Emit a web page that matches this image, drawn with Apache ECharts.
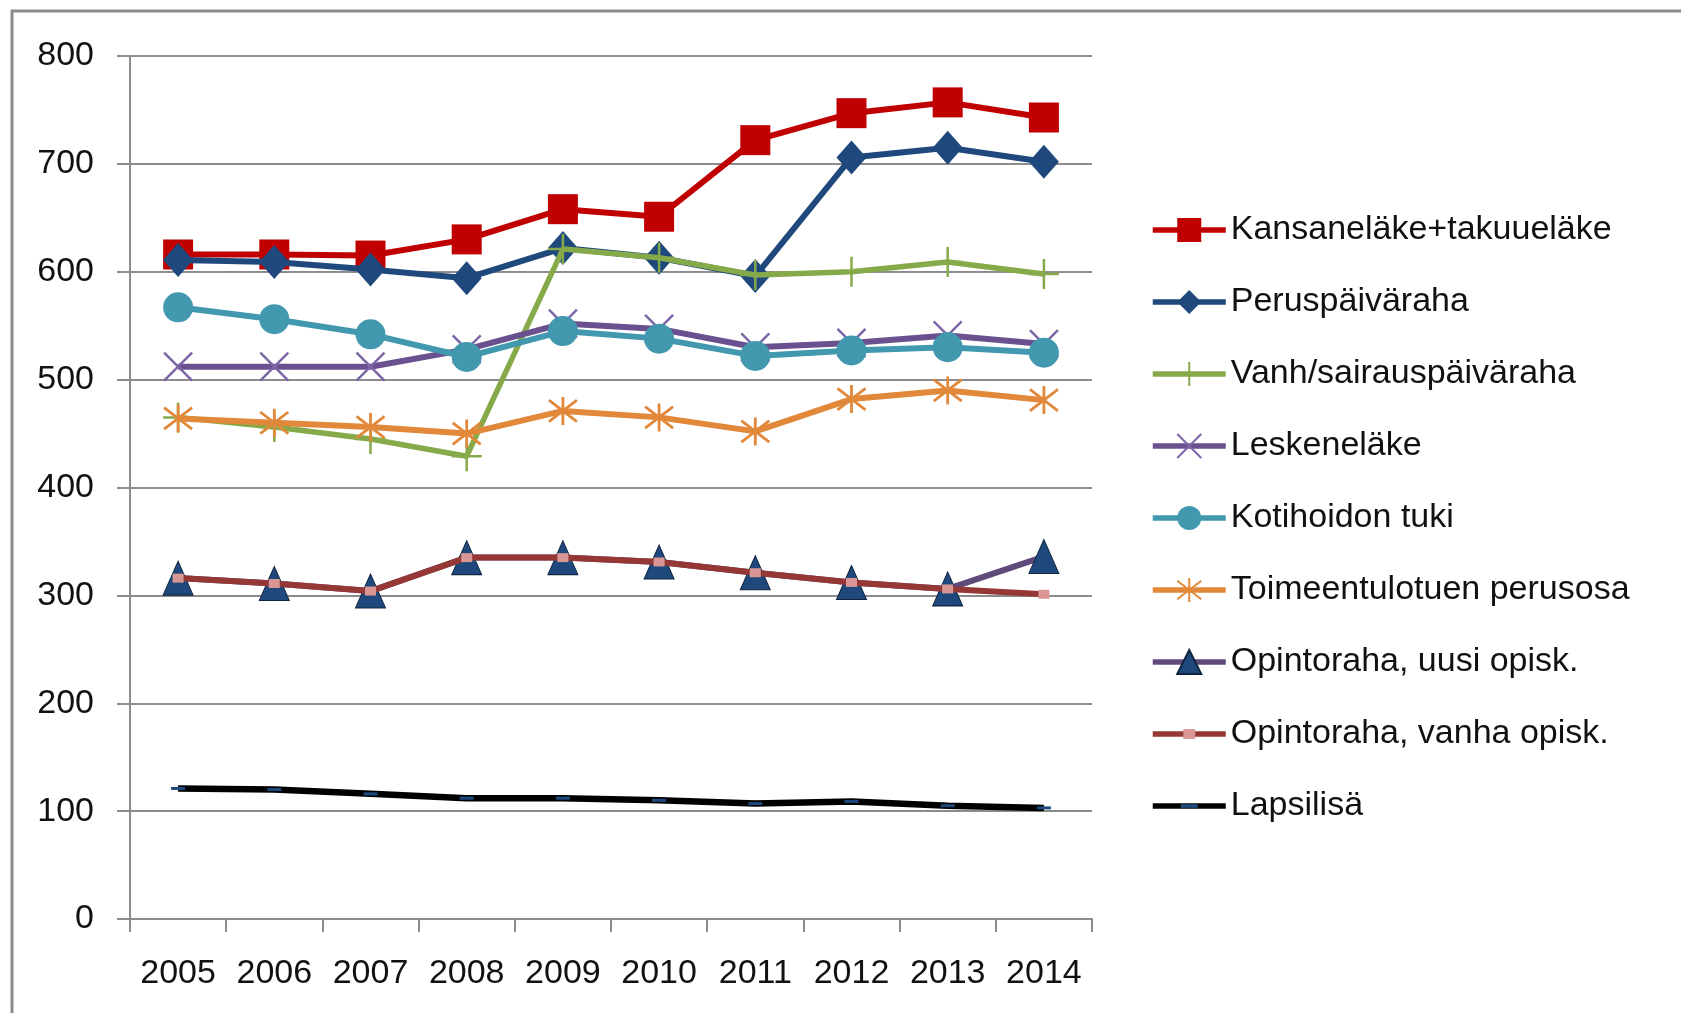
<!DOCTYPE html>
<html>
<head>
<meta charset="utf-8">
<script src="https://cdn.jsdelivr.net/npm/echarts@6/dist/echarts.min.js"></script>
<style>
html,body{margin:0;padding:0;background:#fff;}
#chart{width:1681px;height:1013px;}
</style>
</head>
<body>
<div id="chart"></div>
<script>
const years = ['2005','2006','2007','2008','2009','2010','2011','2012','2013','2014'];
const yTicks = [0,100,200,300,400,500,600,700,800];

const kansanelake = [616, 616, 615, 630, 658, 651, 722, 747, 757, 743];
const peruspaivaraha = [611, 609, 602, 594, 622, 613, 596, 706, 715, 702];
const vanhSairaus = [465, 456, 445, 429, 621, 613, 597, 600, 609, 598];
const leskenelake = [512, 512, 512, 528, 552, 547, 530, 534, 541, 533];
const kotihoidonTuki = [567, 556, 542, 521, 545, 538, 522, 527, 530, 525];
const toimeentulotuki = [464, 460, 456, 450, 471, 465, 452, 482, 490, 481];
const opintorahaUusi = [316, 311, 304, 335, 335, 331, 321, 312, 306, 336];
const opintorahaVanha = [316, 311, 304, 335, 335, 331, 321, 312, 306, 301];
const lapsilisa = [121, 120, 116, 112, 112, 110, 107, 109, 105, 103];

const names = ['Kansaneläke+takuueläke','Peruspäiväraha','Vanh/sairauspäiväraha','Leskeneläke','Kotihoidon tuki','Toimeentulotuen perusosa','Opintoraha, uusi opisk.','Opintoraha, vanha opisk.','Lapsilisä'];

const FONT = '"Liberation Sans", Arial, sans-serif';
const chart = echarts.init(document.getElementById('chart'), null, {renderer:'canvas'});

function line(name, data, color, width, symbol, size, itemStyle, z){
  return {
    name, type:'line', data, z,
    symbol, symbolSize:size, showSymbol:true,
    lineStyle:{color, width},
    itemStyle,
    emphasis:{disabled:true},
    animation:false
  };
}

const PLUS = 'path://M5,0 L5,10 M0,5 L10,5';
const CROSS = 'path://M0,0 L10,10 M10,0 L0,10';
const STAR = 'path://M0,0 L10,10 M10,0 L0,10 M5,-1.5 L5,11.5';
const DASH = 'path://M0,0 M20,20 M3,8.5 L17,8.5 L17,11.5 L3,11.5 Z';
const SMALLSQ = 'path://M0,0 M22,22 M5.5,6.5 L16.5,6.5 L16.5,15.5 L5.5,15.5 Z';

const series = [
  line(names[0], kansanelake, '#C00000', 6, 'rect', 30, {color:'#C00000'}, 2),
  line(names[1], peruspaivaraha, '#1F497D', 6, 'diamond', [30,34], {color:'#1F497D'}, 3),
  line(names[2], vanhSairaus, '#86AA4A', 5.5, PLUS, 30, {color:'rgba(0,0,0,0)', borderColor:'#86AA4A', borderWidth:2.5}, 4),
  line(names[3], leskenelake, '#6B5090', 6, CROSS, 28, {color:'rgba(0,0,0,0)', borderColor:'#7D66A6', borderWidth:2.5}, 5),
  line(names[4], kotihoidonTuki, '#4198AF', 6, 'circle', 30, {color:'#4198AF'}, 6),
  line(names[5], toimeentulotuki, '#E2883A', 6, STAR, 28, {color:'rgba(0,0,0,0)', borderColor:'#E2883A', borderWidth:2.8}, 7),
  line(names[6], opintorahaUusi, '#604A7B', 6, 'triangle', [30,34], {color:'#1F497D', borderColor:'#10253F', borderWidth:1}, 8),
  line(names[7], opintorahaVanha, '#953735', 6, SMALLSQ, 22, {color:'#D99694'}, 9),
  line(names[8], lapsilisa, '#000000', 6.5, DASH, 20, {color:'#1F497D'}, 10)
];

const option = {
  backgroundColor:'#fff',
  animation:false,
  textStyle:{fontFamily:FONT},
  grid:{left:130, right:589, top:56, bottom:94, containLabel:false},
  xAxis:{
    type:'category', data:years, boundaryGap:true,
    axisLine:{show:true, lineStyle:{color:'#8C8C8C', width:2}},
    axisTick:{show:true, length:13, alignWithLabel:false, lineStyle:{color:'#8C8C8C', width:2}},
    axisLabel:{fontSize:34, color:'#111', margin:38, fontFamily:FONT, interval:0},
    splitLine:{show:false}
  },
  yAxis:{
    type:'value', min:0, max:800, interval:100,
    axisLine:{show:true, lineStyle:{color:'#8C8C8C', width:2}},
    axisTick:{show:true, length:13, lineStyle:{color:'#8C8C8C', width:2}},
    axisLabel:{fontSize:34, color:'#111', margin:36, fontFamily:FONT,
      formatter:function(v){ return yTicks.indexOf(v) >= 0 ? String(v) : ''; }},
    splitLine:{show:true, lineStyle:{color:'#8C8C8C', width:2}}
  },
  legend:{
    orient:'vertical', left:1145, top:208,
    itemWidth:73, itemHeight:30, itemGap:38,
    lineStyle:{width:5.5},
    textStyle:{fontSize:34, color:'#111', fontFamily:FONT, lineHeight:34},
    data:names,
    selectedMode:false
  },
  graphic:[{
    type:'rect', shape:{x:12, y:11, width:1800, height:1200},
    style:{fill:'none', stroke:'#8C8C8C', lineWidth:3}, z:100, silent:true
  }],
  series
};
chart.setOption(option);
</script>
</body>
</html>
